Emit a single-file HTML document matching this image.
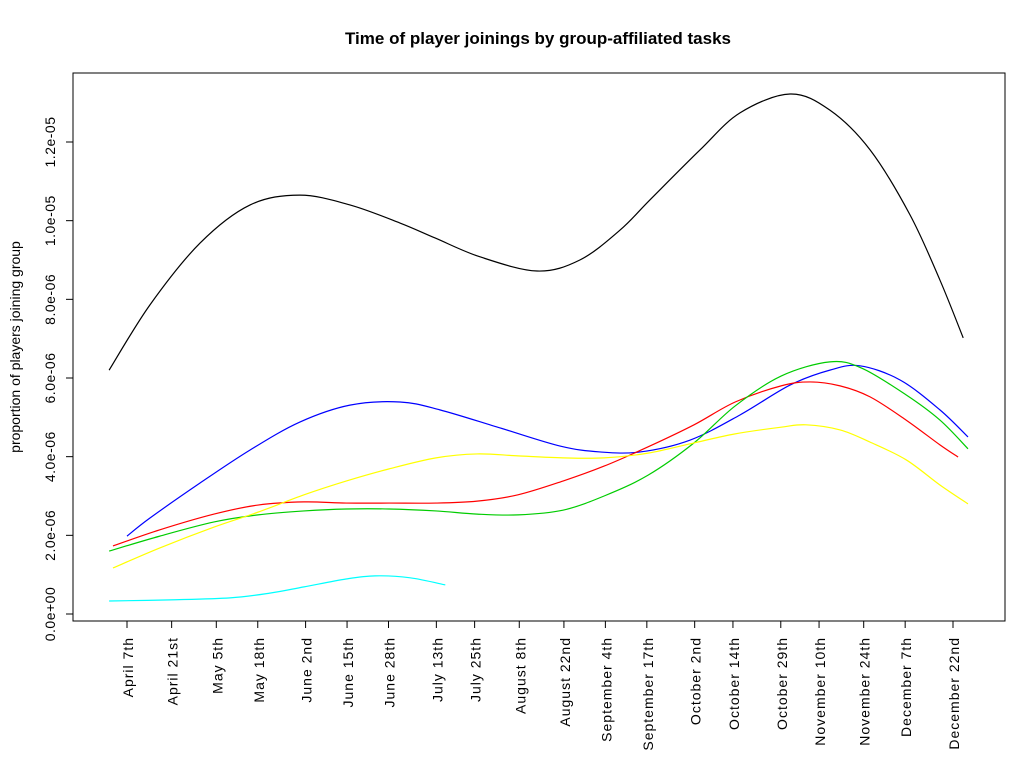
<!DOCTYPE html>
<html><head><meta charset="utf-8"><style>
html,body{margin:0;padding:0;background:#fff;}
svg{display:block;font-family:"Liberation Sans",Arial,sans-serif;}
</style></head><body>
<svg id="chart" width="1024" height="768" viewBox="0 0 1024 768" xmlns="http://www.w3.org/2000/svg">
<rect x="0" y="0" width="1024" height="768" fill="#fff"/>
<text x="538" y="44" text-anchor="middle" font-size="17" font-weight="bold">Time of player joinings by group-affiliated tasks</text>
<rect x="73" y="73" width="932" height="548" fill="none" stroke="#000" stroke-width="1"/>
<text transform="translate(20,347) rotate(-90)" text-anchor="middle" font-size="14">proportion of players joining group</text>
<g id="axes"></g>
<g id="series"></g>
</svg>
<script>
// x-axis ticks (day of year) and labels
const tickDays = [97,111,125,138,153,166,179,194,206,220,234,247,260,275,287,302,314,328,341,356];
const tickLabels = ["April 7th","April 21st","May 5th","May 18th","June 2nd","June 15th","June 28th","July 13th","July 25th","August 8th","August 22nd","September 4th","September 17th","October 2nd","October 14th","October 29th","November 10th","November 24th","December 7th","December 22nd"];
// y ticks (units of 1e-6)
const yTicks = [0,2,4,6,8,10,12];
const yTickLabels = ["0.0e+00","2.0e-06","4.0e-06","6.0e-06","8.0e-06","1.0e-05","1.2e-05"];
// series: days and values (1e-6 units)
const blackDays = [91.4,104.2,119.9,135.6,151.2,166.9,182.6,193.6,207.7,225.6,239,251.6,261,276.7,289.2,304.9,317.4,330,342.5,351.9,359.2];
const blackVals = [6.20,7.86,9.43,10.40,10.65,10.40,9.94,9.56,9.08,8.72,9.00,9.76,10.53,11.80,12.74,13.22,12.81,11.80,10.15,8.49,7.02];
const blueDays = [97,104.2,119.9,135.6,151.2,166.9,182.6,195.1,214,232.8,245.3,257.9,273.5,289.2,304.9,317.4,326.8,339.4,351.9,360.7];
const blueVals = [1.98,2.44,3.33,4.17,4.88,5.31,5.39,5.19,4.73,4.27,4.12,4.12,4.42,5.06,5.82,6.20,6.31,5.95,5.19,4.50];
const redDays = [92.6,107.3,124.3,138.1,152.5,165.7,179.2,193.9,206.8,219.6,233.7,246.6,260.4,274.8,287.7,302.1,311.2,320.6,330,341.3,351.9,357.6];
const redVals = [1.73,2.14,2.54,2.77,2.85,2.82,2.82,2.82,2.87,3.03,3.38,3.76,4.25,4.81,5.39,5.80,5.90,5.80,5.52,4.93,4.30,3.99];
const greenDays = [91.4,107.3,124.3,138.1,152.5,165.7,179.2,193.9,206.8,219.6,233.7,246.6,260.4,274.8,287.7,302.1,317.4,327.4,341.3,351.9,360.7];
const greenVals = [1.60,1.98,2.34,2.52,2.62,2.67,2.67,2.62,2.54,2.52,2.64,3.00,3.53,4.35,5.29,6.05,6.41,6.25,5.57,4.93,4.20];
const yellowDays = [92.6,107.3,124.3,138.1,152.5,165.7,179.2,193.9,206.8,219.6,233.7,246.6,260.4,274.8,287.7,302.1,309.9,320.6,330,341.3,351.9,360.7];
const yellowVals = [1.17,1.68,2.21,2.59,3.03,3.38,3.69,3.97,4.07,4.02,3.97,3.97,4.09,4.35,4.58,4.75,4.81,4.68,4.37,3.92,3.28,2.80];
const cyanDays = [91.4,110.5,129.3,141.8,152.5,165.7,174.8,185.8,196.8];
const cyanVals = [0.33,0.36,0.41,0.53,0.69,0.89,0.97,0.92,0.74];

const NS="http://www.w3.org/2000/svg";
function xS(d){return 127+(d-97)*(953-127)/259;}
function yS(v){return 614-v*(614-142)/12;}
const axes=document.getElementById('axes');
function mk(tag,attrs,parent){const e=document.createElementNS(NS,tag);for(const k in attrs)e.setAttribute(k,attrs[k]);parent.appendChild(e);return e;}

const xl=mk('line',{x1:xS(tickDays[0]),x2:xS(tickDays[tickDays.length-1]),y1:621,y2:621,stroke:'#000'},axes);


tickDays.forEach((d,i)=>{
  const x=xS(d);
  const t=mk('line',{x1:x,x2:x,y1:621,y2:628,stroke:'#000'},axes);
  
  
  const lb=mk('text',{transform:`translate(${x+6},637) rotate(-90)`,'text-anchor':'end','font-size':'14','letter-spacing':'1'},axes);
  lb.textContent=tickLabels[i];
  
  
});
const yl=mk('line',{x1:73,x2:73,y1:yS(yTicks[0]),y2:yS(yTicks[yTicks.length-1]),stroke:'#000'},axes);


yTicks.forEach((v,i)=>{
  const y=yS(v);
  const t=mk('line',{x1:66,x2:73,y1:y,y2:y,stroke:'#000'},axes);
  
  
  const lb=mk('text',{transform:`translate(55,${y}) rotate(-90)`,'text-anchor':'middle','font-size':'14','letter-spacing':'0.5'},axes);
  lb.textContent=yTickLabels[i];
  
  
});

function pathFor(days,vals){
  const p=days.map((d,i)=>[xS(d),yS(vals[i])]);
  let s=`M${p[0][0]},${p[0][1]}`;
  for(let i=0;i<p.length-1;i++){
    const p0=p[i-1]||p[i],p1=p[i],p2=p[i+1],p3=p[i+2]||p[i+1];
    const c1=[p1[0]+(p2[0]-p0[0])/6,p1[1]+(p2[1]-p0[1])/6];
    const c2=[p2[0]-(p3[0]-p1[0])/6,p2[1]-(p3[1]-p1[1])/6];
    s+=` C${c1[0]},${c1[1]} ${c2[0]},${c2[1]} ${p2[0]},${p2[1]}`;
  }
  return s;
}
const ser=document.getElementById('series');
[[blackDays,blackVals,'#000','series-black'],[blueDays,blueVals,'#0000ff','series-blue'],[redDays,redVals,'#ff0000','series-red'],[greenDays,greenVals,'#00cc00','series-green'],[yellowDays,yellowVals,'#ffff00','series-yellow'],[cyanDays,cyanVals,'#00ffff','series-cyan']].forEach(s=>{
  const el=mk('path',{d:pathFor(s[0],s[1]),fill:'none',stroke:s[2],'stroke-width':'1.2'},ser);
  
  
});
</script>
</body></html>
